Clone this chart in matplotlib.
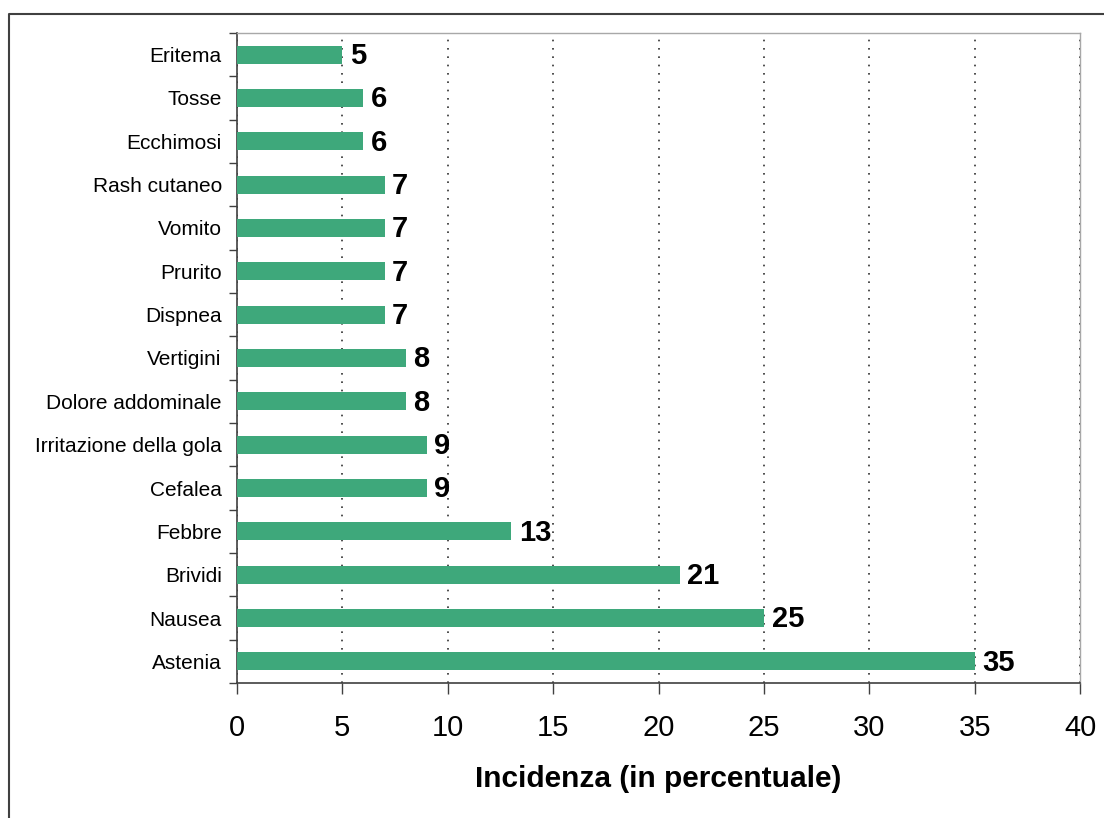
import matplotlib
matplotlib.use("Agg")
import matplotlib.pyplot as plt
from matplotlib.lines import Line2D
from matplotlib.ticker import MultipleLocator, FixedLocator

plt.rcParams['font.family'] = ['Liberation Sans', 'DejaVu Sans']

# Sintomi (dal basso verso l'alto) e incidenza percentuale
sintomi = ["Astenia", "Nausea", "Brividi", "Febbre", "Cefalea",
           "Irritazione della gola", "Dolore addominale", "Vertigini",
           "Dispnea", "Prurito", "Vomito", "Rash cutaneo", "Ecchimosi",
           "Tosse", "Eritema"]
incidenza = [35, 25, 21, 13, 9, 9, 8, 8, 7, 7, 7, 7, 6, 6, 5]

fig = plt.figure(figsize=(11.04, 8.18), dpi=100)
ax = fig.add_axes([0.2147, 0.165, 0.7636, 0.7947])

pos = list(range(len(sintomi)))
bars = ax.barh(pos, incidenza, height=0.42, color="#3ea87b", zorder=3)

for y, v in zip(pos, incidenza):
    ax.annotate(str(v), (v, y), xytext=(5.5, -1), textcoords="offset points",
                va="center", ha="left", fontsize=21, fontweight="bold", zorder=4)

ax.set_xlim(0, 40)
ax.set_ylim(-0.5, len(sintomi) - 0.5)
ax.xaxis.set_major_locator(MultipleLocator(5))
ax.set_yticks(pos)
ax.set_yticklabels(sintomi, fontsize=15)
ax.yaxis.set_minor_locator(FixedLocator([p - 0.5 for p in pos] + [len(pos) - 0.5]))
ax.tick_params(axis="y", which="major", length=0, pad=11)
ax.tick_params(axis="y", which="minor", length=6, color="#404040", width=1)
ax.tick_params(axis="x", which="major", length=8, color="#404040", width=1,
               labelsize=21, pad=14)

ax.grid(axis="x", linestyle=(0, (1, 4)), color="#303030", linewidth=1.2, zorder=0)
ax.yaxis.grid(False)

for side in ("left", "bottom"):
    ax.spines[side].set_color("#404040")
    ax.spines[side].set_linewidth(1.2)
for side in ("top", "right"):
    ax.spines[side].set_color("#a8a8a8")
    ax.spines[side].set_linewidth(1)

ax.set_xlabel("Incidenza (in percentuale)", fontsize=21.5, fontweight="bold", labelpad=17)

# cornice esterna del grafico
fx = 9 / 1104
fy = 1 - 14 / 818
fig.add_artist(Line2D([fx, fx, 1.0], [0.0, fy, fy], color="#404040", linewidth=1.5))

fig.savefig("out.png", dpi=100)
